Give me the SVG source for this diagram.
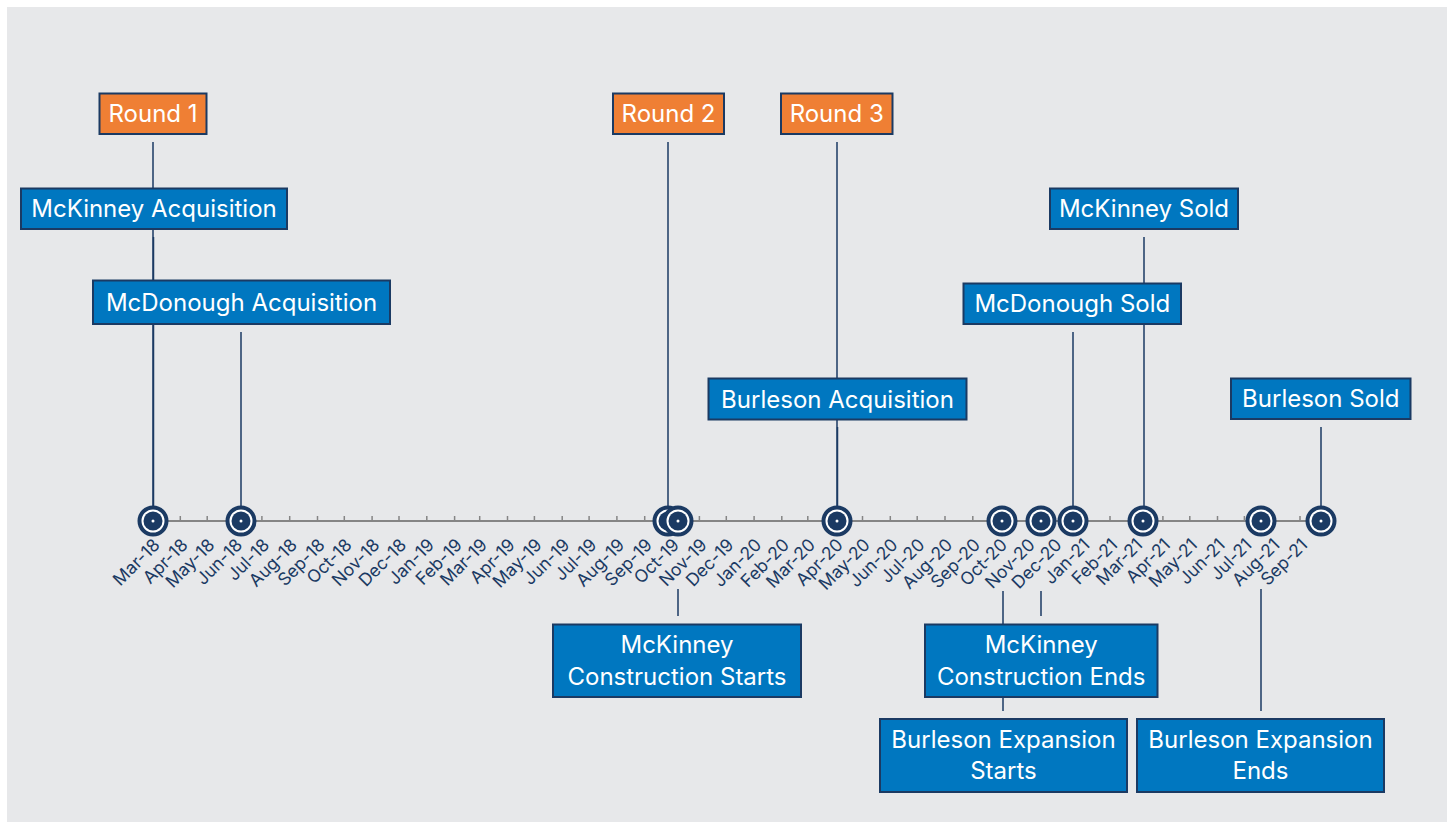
<svg xmlns="http://www.w3.org/2000/svg" width="1450" height="825" viewBox="0 0 1450 825">
<style>
.bx{fill:#0077c0;stroke:#1b3a63;stroke-width:2}
.rd{fill:#ef7f34;stroke:#1b3a63;stroke-width:2}
.t{font-family:Inter,"Liberation Sans",sans-serif;font-size:24px;fill:#ffffff;text-anchor:middle}
.lbl{font-family:Inter,"Liberation Sans",sans-serif;font-size:17.5px;fill:#1b3a63;text-anchor:end}
.ld{stroke:#1b3a63;stroke-width:1.5;fill:none}
.ax{stroke:#858585;stroke-width:2;fill:none}
.tk{stroke:#858585;stroke-width:1.5}
.ring{fill:#ffffff;stroke:#1b3a63;stroke-width:4}
.core{fill:#1b3a63}
.dot{fill:#ffffff}
</style>
<defs>
<g id="mk"><circle class="ring" r="13.5"/><circle class="core" r="9.5"/><circle class="dot" r="1.5"/></g>
</defs>
<rect x="0" y="0" width="1450" height="825" fill="#ffffff"/>
<rect x="7" y="7" width="1440" height="815" fill="#e7e8ea"/>

<g id="axis">
<line class="ax" x1="153" y1="521" x2="1321" y2="521"/>
<g class="tk">
<line x1="180.3" y1="516" x2="180.3" y2="521"/><line x1="207.2" y1="516" x2="207.2" y2="521"/><line x1="235" y1="516" x2="235" y2="521"/><line x1="261.9" y1="516" x2="261.9" y2="521"/><line x1="289.7" y1="516" x2="289.7" y2="521"/><line x1="317.5" y1="516" x2="317.5" y2="521"/><line x1="344.3" y1="516" x2="344.3" y2="521"/><line x1="372.1" y1="516" x2="372.1" y2="521"/><line x1="399" y1="516" x2="399" y2="521"/><line x1="426.8" y1="516" x2="426.8" y2="521"/><line x1="454.6" y1="516" x2="454.6" y2="521"/><line x1="479.7" y1="516" x2="479.7" y2="521"/><line x1="507.5" y1="516" x2="507.5" y2="521"/><line x1="534.4" y1="516" x2="534.4" y2="521"/><line x1="562.2" y1="516" x2="562.2" y2="521"/><line x1="589.1" y1="516" x2="589.1" y2="521"/><line x1="616.9" y1="516" x2="616.9" y2="521"/><line x1="644.7" y1="516" x2="644.7" y2="521"/><line x1="671.6" y1="516" x2="671.6" y2="521"/><line x1="699.4" y1="516" x2="699.4" y2="521"/><line x1="726.3" y1="516" x2="726.3" y2="521"/><line x1="754.1" y1="516" x2="754.1" y2="521"/><line x1="781.8" y1="516" x2="781.8" y2="521"/><line x1="807.8" y1="516" x2="807.8" y2="521"/><line x1="835.6" y1="516" x2="835.6" y2="521"/><line x1="862.5" y1="516" x2="862.5" y2="521"/><line x1="890.3" y1="516" x2="890.3" y2="521"/><line x1="917.2" y1="516" x2="917.2" y2="521"/><line x1="945" y1="516" x2="945" y2="521"/><line x1="972.8" y1="516" x2="972.8" y2="521"/><line x1="999.7" y1="516" x2="999.7" y2="521"/><line x1="1027.5" y1="516" x2="1027.5" y2="521"/><line x1="1054.4" y1="516" x2="1054.4" y2="521"/><line x1="1082.2" y1="516" x2="1082.2" y2="521"/><line x1="1110" y1="516" x2="1110" y2="521"/><line x1="1135.1" y1="516" x2="1135.1" y2="521"/><line x1="1162.9" y1="516" x2="1162.9" y2="521"/><line x1="1189.8" y1="516" x2="1189.8" y2="521"/><line x1="1217.5" y1="516" x2="1217.5" y2="521"/><line x1="1244.4" y1="516" x2="1244.4" y2="521"/><line x1="1272.2" y1="516" x2="1272.2" y2="521"/><line x1="1300" y1="516" x2="1300" y2="521"/>
</g>
<g id="axis-labels">
<text class="lbl" transform="translate(161,546) rotate(-45)">Mar-18</text>
<text class="lbl" transform="translate(188.8,546) rotate(-45)">Apr-18</text>
<text class="lbl" transform="translate(215.7,546) rotate(-45)">May-18</text>
<text class="lbl" transform="translate(243.5,546) rotate(-45)">Jun-18</text>
<text class="lbl" transform="translate(270.4,546) rotate(-45)">Jul-18</text>
<text class="lbl" transform="translate(298.2,546) rotate(-45)">Aug-18</text>
<text class="lbl" transform="translate(326,546) rotate(-45)">Sep-18</text>
<text class="lbl" transform="translate(352.8,546) rotate(-45)">Oct-18</text>
<text class="lbl" transform="translate(380.6,546) rotate(-45)">Nov-18</text>
<text class="lbl" transform="translate(407.5,546) rotate(-45)">Dec-18</text>
<text class="lbl" transform="translate(435.3,546) rotate(-45)">Jan-19</text>
<text class="lbl" transform="translate(463.1,546) rotate(-45)">Feb-19</text>
<text class="lbl" transform="translate(488.2,546) rotate(-45)">Mar-19</text>
<text class="lbl" transform="translate(516,546) rotate(-45)">Apr-19</text>
<text class="lbl" transform="translate(542.9,546) rotate(-45)">May-19</text>
<text class="lbl" transform="translate(570.7,546) rotate(-45)">Jun-19</text>
<text class="lbl" transform="translate(597.6,546) rotate(-45)">Jul-19</text>
<text class="lbl" transform="translate(625.4,546) rotate(-45)">Aug-19</text>
<text class="lbl" transform="translate(653.2,546) rotate(-45)">Sep-19</text>
<text class="lbl" transform="translate(680.1,546) rotate(-45)">Oct-19</text>
<text class="lbl" transform="translate(707.9,546) rotate(-45)">Nov-19</text>
<text class="lbl" transform="translate(734.8,546) rotate(-45)">Dec-19</text>
<text class="lbl" transform="translate(762.6,546) rotate(-45)">Jan-20</text>
<text class="lbl" transform="translate(790.3,546) rotate(-45)">Feb-20</text>
<text class="lbl" transform="translate(816.3,546) rotate(-45)">Mar-20</text>
<text class="lbl" transform="translate(844.1,546) rotate(-45)">Apr-20</text>
<text class="lbl" transform="translate(871,546) rotate(-45)">May-20</text>
<text class="lbl" transform="translate(898.8,546) rotate(-45)">Jun-20</text>
<text class="lbl" transform="translate(925.7,546) rotate(-45)">Jul-20</text>
<text class="lbl" transform="translate(953.5,546) rotate(-45)">Aug-20</text>
<text class="lbl" transform="translate(981.3,546) rotate(-45)">Sep-20</text>
<text class="lbl" transform="translate(1008.2,546) rotate(-45)">Oct-20</text>
<text class="lbl" transform="translate(1036,546) rotate(-45)">Nov-20</text>
<text class="lbl" transform="translate(1062.9,546) rotate(-45)">Dec-20</text>
<text class="lbl" transform="translate(1090.7,546) rotate(-45)">Jan-21</text>
<text class="lbl" transform="translate(1118.5,546) rotate(-45)">Feb-21</text>
<text class="lbl" transform="translate(1143.6,546) rotate(-45)">Mar-21</text>
<text class="lbl" transform="translate(1171.4,546) rotate(-45)">Apr-21</text>
<text class="lbl" transform="translate(1198.3,546) rotate(-45)">May-21</text>
<text class="lbl" transform="translate(1226,546) rotate(-45)">Jun-21</text>
<text class="lbl" transform="translate(1252.9,546) rotate(-45)">Jul-21</text>
<text class="lbl" transform="translate(1280.7,546) rotate(-45)">Aug-21</text>
<text class="lbl" transform="translate(1308.5,546) rotate(-45)">Sep-21</text>
</g>
</g>

<g id="connectors">
<line class="ld" x1="153" y1="142" x2="153" y2="521"/>
<line class="ld" x1="153.5" y1="237" x2="153.5" y2="521"/>
<line class="ld" x1="241" y1="332" x2="241" y2="521"/>
<line class="ld" x1="668" y1="142" x2="668" y2="521"/>
<line class="ld" x1="837" y1="142" x2="837" y2="521"/>
<line class="ld" x1="837.5" y1="427" x2="837.5" y2="521"/>
<line class="ld" x1="1144" y1="237" x2="1144" y2="521"/>
<line class="ld" x1="1073" y1="332" x2="1073" y2="521"/>
<line class="ld" x1="1321" y1="427" x2="1321" y2="521"/>
<line class="ld" x1="678" y1="589" x2="678" y2="616"/>
<line class="ld" x1="1003" y1="591" x2="1003" y2="711"/>
<line class="ld" x1="1041" y1="591" x2="1041" y2="616"/>
<line class="ld" x1="1261" y1="589" x2="1261" y2="711"/>
</g>

<g id="markers">
<use href="#mk" x="153" y="521"/>
<use href="#mk" x="241" y="521"/>
<use href="#mk" x="668" y="521"/>
<use href="#mk" x="678" y="521"/>
<use href="#mk" x="837" y="521"/>
<use href="#mk" x="1002" y="521"/>
<use href="#mk" x="1041" y="521"/>
<use href="#mk" x="1073" y="521"/>
<use href="#mk" x="1143" y="521"/>
<use href="#mk" x="1261" y="521"/>
<use href="#mk" x="1321" y="521"/>
</g>

<g id="round1"><rect class="rd" x="99.5" y="93.5" width="107" height="40.5"/><text class="t" x="153" y="122">Round 1</text></g>
<g id="round2"><rect class="rd" x="613" y="93.5" width="111" height="40.5"/><text class="t" x="668.5" y="122">Round 2</text></g>
<g id="round3"><rect class="rd" x="781" y="93.5" width="111.5" height="40.5"/><text class="t" x="836.7" y="122">Round 3</text></g>
<g id="mckinney-acq"><rect class="bx" x="21" y="188.5" width="266" height="40.5"/><text class="t" x="154" y="217">McKinney Acquisition</text></g>
<g id="mcdonough-acq"><rect class="bx" x="93" y="280.5" width="297" height="43.5"/><text class="t" x="241.5" y="310.5">McDonough Acquisition</text></g>
<g id="burleson-acq"><rect class="bx" x="708.5" y="378.5" width="258" height="41"/><text class="t" x="837.5" y="407.5">Burleson Acquisition</text></g>
<g id="mckinney-sold"><rect class="bx" x="1050" y="188.5" width="188" height="40.5"/><text class="t" x="1144" y="217">McKinney Sold</text></g>
<g id="mcdonough-sold"><rect class="bx" x="963.5" y="283.5" width="217.5" height="40.5"/><text class="t" x="1072.3" y="312">McDonough Sold</text></g>
<g id="burleson-sold"><rect class="bx" x="1231" y="378.5" width="179.5" height="40.5"/><text class="t" x="1320.8" y="407">Burleson Sold</text></g>
<g id="mckinney-cs"><rect class="bx" x="553" y="624.5" width="248" height="72.5"/><text class="t" x="677" y="653">McKinney</text><text class="t" x="677" y="685">Construction Starts</text></g>
<g id="mckinney-ce"><rect class="bx" x="925" y="624.5" width="232.5" height="72.5"/><text class="t" x="1041.2" y="653">McKinney</text><text class="t" x="1041.2" y="685">Construction Ends</text></g>
<g id="burleson-es"><rect class="bx" x="880" y="719" width="247" height="73"/><text class="t" x="1003.5" y="748">Burleson Expansion</text><text class="t" x="1003.5" y="779">Starts</text></g>
<g id="burleson-ee"><rect class="bx" x="1137" y="719" width="247" height="73"/><text class="t" x="1260.5" y="748">Burleson Expansion</text><text class="t" x="1260.5" y="779">Ends</text></g>
</svg>
